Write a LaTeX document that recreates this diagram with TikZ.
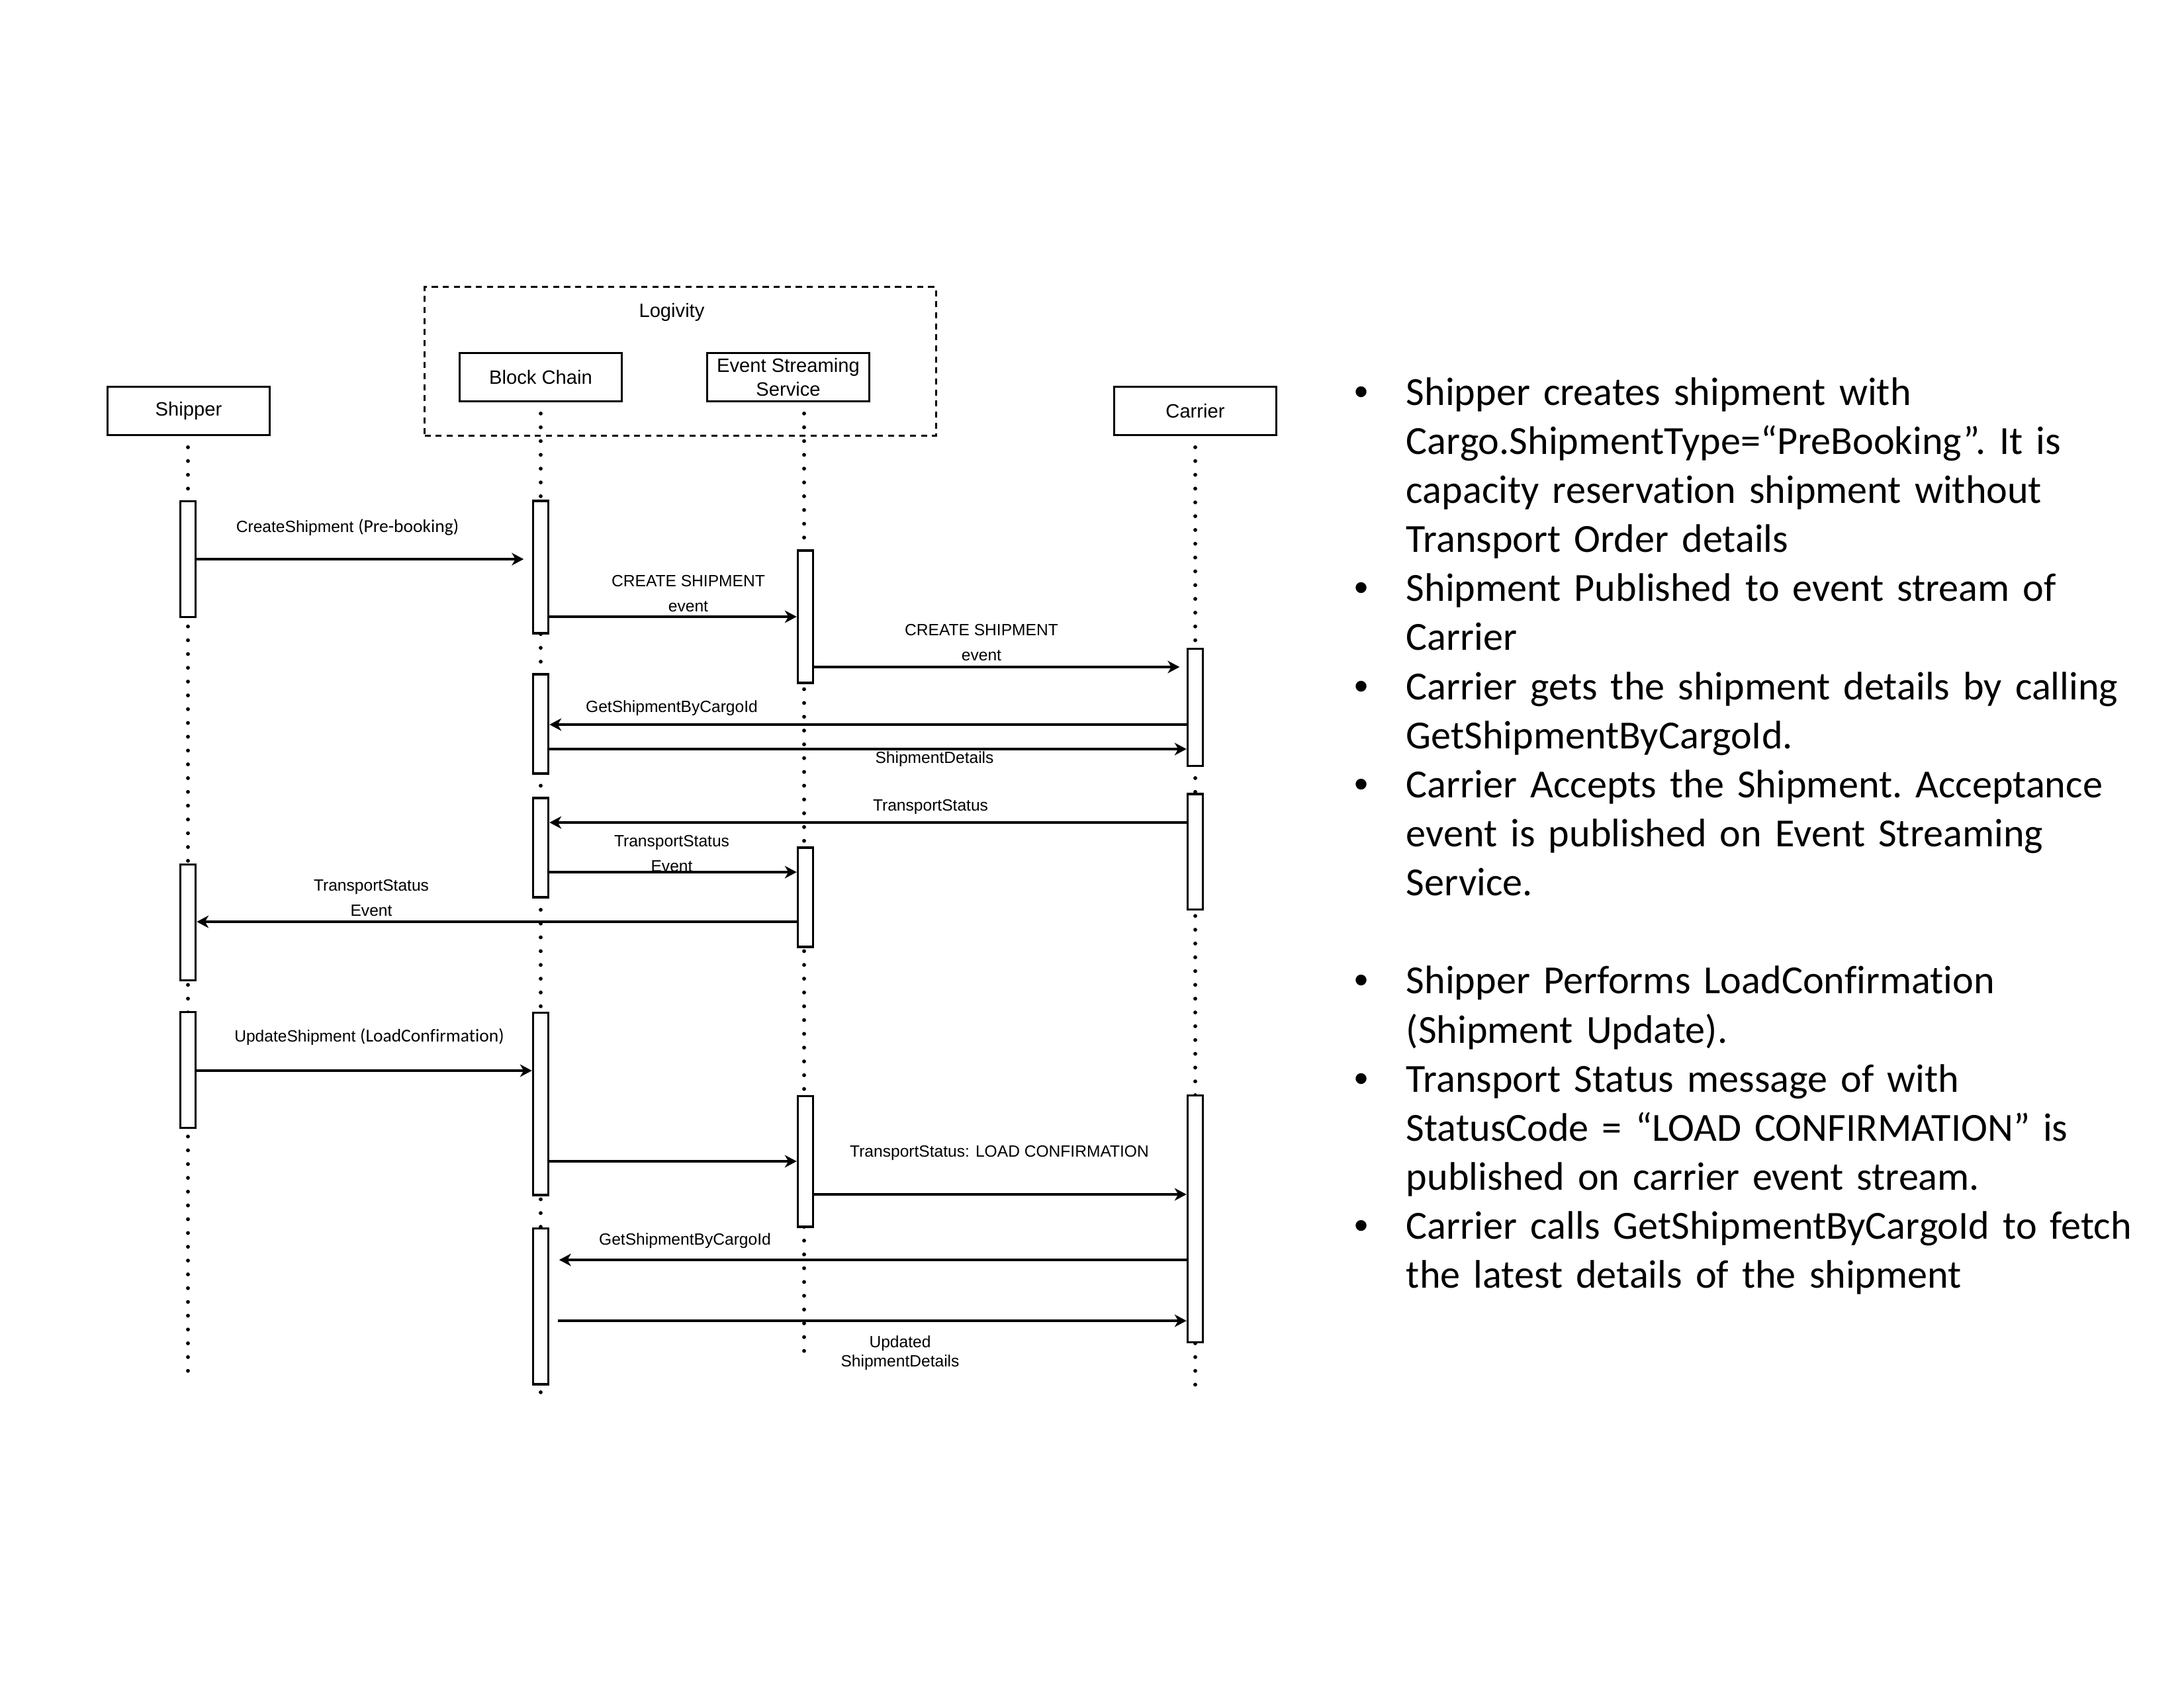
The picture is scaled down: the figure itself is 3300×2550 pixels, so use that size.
\documentclass[tikz,border=0pt]{standalone}
\usepackage{fontspec}
\setmainfont{Carlito}[Ligatures=NoCommon]
\newfontfamily\arialfont{Liberation Sans}
\usetikzlibrary{arrows.meta, positioning, calc}
\newcommand\bul{\leavevmode\llap{{\arialfont •}\hspace{13.7pt}}}
\newcommand\pbk{\normalfont\fontsize{6.6}{8}\selectfont}
\tikzset{
  head/.style={rectangle, draw, line width=0.75pt, minimum width=59pt, minimum height=17.6pt,
    inner sep=0pt, align=center, font=\arialfont\fontsize{7}{8.6}\selectfont},
  bar/.style={rectangle, draw, fill=white, line width=0.75pt, minimum width=5.6pt, inner sep=0pt},
  group/.style={rectangle, draw, line width=0.7pt, dash pattern=on 2.2pt off 1.8pt, inner sep=0pt},
  lifeline/.style={line width=1.4pt, dash pattern=on 0pt off 5pt, line cap=round, shorten <=4pt},
  msg/.style={-{Stealth[length=4.3pt, width=4.5pt, inset=1.3pt]}, line width=0.75pt},
  msglbl/.style={inner sep=0pt, align=center, font=\arialfont\fontsize{5.9}{9.1}\selectfont},
  notes/.style={text width=330pt, align=left, inner sep=0pt,
    font=\frenchspacing\fontsize{14.45}{17.8}\selectfont},
}
\begin{document}
\begin{tikzpicture}[x=0.24pt, y=-0.24pt]
\useasboundingbox (0,0) rectangle (3300,2550);

% participants
\node[group, minimum width=185.5pt, minimum height=53.8pt] (logivity) at (1028,546) {};
\node[msglbl, font=\arialfont\fontsize{7}{8.6}\selectfont] (logtitle) at (1015,472) {Logivity};
\node[head] (shipper) at (285,621) {Shipper};
\node[head] (chain) at (817,570) {Block Chain};
\node[head] (stream) at (1191,570) {Event Streaming\\Service};
\node[head] (carrier) at (1806,621) {Carrier};

% lifelines
\coordinate (shipperEnd) at (284,2078);
\coordinate (chainEnd) at (817,2115);
\coordinate (streamEnd) at (1215,2050);
\coordinate (carrierEnd) at (1806,2102);
\draw[lifeline] (shipper.south -| shipperEnd) -- (shipperEnd);
\draw[lifeline] (chain.south) -- (chainEnd);
\draw[lifeline] (stream.south -| streamEnd) -- (streamEnd);
\draw[lifeline] (carrier.south) -- (carrierEnd);

% activation bars
\node[bar, minimum height=41.8pt] (sb1) at (284,845) {};
\node[bar, minimum height=42pt] (sb2) at (284,1394) {};
\node[bar, minimum height=42pt] (sb3) at (284,1617) {};
\node[bar, minimum height=48pt] (bb1) at (817,857) {};
\node[bar, minimum height=36pt] (bb2) at (817,1094) {};
\node[bar, minimum height=36pt] (bb3) at (817,1281) {};
\node[bar, minimum height=66.2pt] (bb4) at (817,1668) {};
\node[bar, minimum height=56.6pt] (bb5) at (817,1974) {};
\node[bar, minimum height=48pt] (eb1) at (1217,932) {};
\node[bar, minimum height=36pt] (eb2) at (1217,1356) {};
\node[bar, minimum height=47.5pt] (eb3) at (1217,1755) {};
\node[bar, minimum height=42.5pt] (cb1) at (1806,1069) {};
\node[bar, minimum height=41.8pt] (cb2) at (1806,1287) {};
\node[bar, minimum height=89.5pt] (cb3) at (1806,1842) {};

% messages
\draw[msg, shorten >=3pt] (sb1.east |- 0,845) -- (bb1.west |- 0,845);
\draw[msg] (bb1.east |- 0,932) -- (eb1.west |- 0,932);
\draw[msg, shorten >=2.5pt] (eb1.east |- 0,1008) -- (cb1.west |- 0,1008);
\draw[msg] (cb1.west |- 0,1095) -- (bb2.east |- 0,1095);
\draw[msg] (bb2.east |- 0,1132) -- (cb1.west |- 0,1132);
\draw[msg] (cb2.west |- 0,1243) -- (bb3.east |- 0,1243);
\draw[msg] (bb3.east |- 0,1318) -- (eb2.west |- 0,1318);
\draw[msg] (eb2.west |- 0,1393) -- (sb2.east |- 0,1393);
\draw[msg] (sb3.east |- 0,1618) -- (bb4.west |- 0,1618);
\draw[msg] (bb4.east |- 0,1755) -- (eb3.west |- 0,1755);
\draw[msg] (eb3.east |- 0,1805) -- (cb3.west |- 0,1805);
\draw[msg, shorten >=3.5pt] (cb3.west |- 0,1904) -- (bb5.east |- 0,1904);
\draw[msg, shorten <=3pt] (bb5.east |- 0,1996) -- (cb3.west |- 0,1996);

% message labels
\node[msglbl] (l1) at (525,797) {CreateShipment {\pbk (Pre-booking)}};
\node[msglbl] (l2) at (1040,897) {CREATE SHIPMENT\\event};
\node[msglbl] (l3) at (1483,971) {CREATE SHIPMENT\\event};
\node[msglbl] (l4) at (1015,1070) {GetShipmentByCargoId};
\node[msglbl] (l5) at (1412,1147) {ShipmentDetails};
\node[msglbl] (l6) at (1406,1219) {TransportStatus};
\node[msglbl] (l7) at (1015,1290) {TransportStatus\\Event};
\node[msglbl] (l8) at (561,1357) {TransportStatus\\Event};
\node[msglbl] (l9) at (558,1567) {UpdateShipment {\pbk (LoadConfirmation)}};
\node[msglbl] (l11) at (1510,1742) {TransportStatus: LOAD CONFIRMATION};
\node[msglbl] (l12) at (1035,1875) {GetShipmentByCargoId};
\node[msglbl, font=\arialfont\fontsize{5.9}{7}\selectfont] (l13) at (1360,2045) {Updated\\ShipmentDetails};

% notes
\node[notes, anchor=base west] (notes) at (2124,612) {%
\bul Shipper creates shipment with\\
Cargo.ShipmentType=“PreBooking”. It is\\
capacity reservation shipment without\\
Transport Order details\\
\bul Shipment Published to event stream of\\
Carrier\\
\bul Carrier gets the shipment details by calling\\
GetShipmentByCargoId.\\
\bul Carrier Accepts the Shipment. Acceptance\\
event is published on Event Streaming\\
Service.\\[17.8pt]
\bul Shipper Performs LoadConfirmation\\
(Shipment Update).\\
\bul Transport Status message of with\\
StatusCode = “LOAD CONFIRMATION” is\\
published on carrier event stream.\\
\bul Carrier calls GetShipmentByCargoId to fetch\\
the latest details of the shipment};
\end{tikzpicture}
\end{document}
